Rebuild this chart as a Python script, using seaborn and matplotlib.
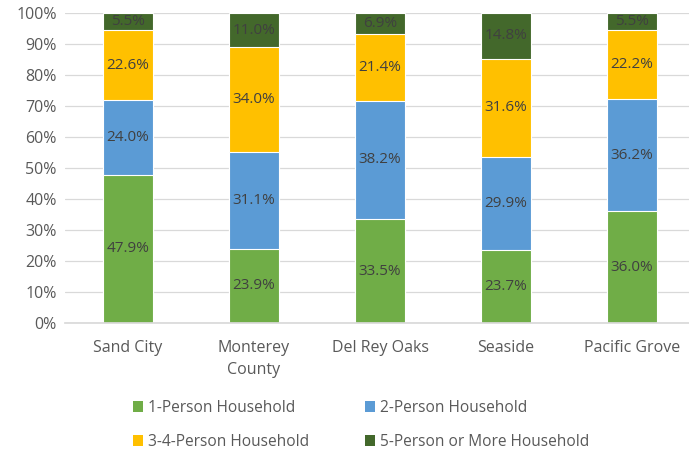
import matplotlib
matplotlib.use("Agg")
import matplotlib.pyplot as plt
import seaborn as sns
import numpy as np
import pandas as pd
from matplotlib.patches import Patch

places = ["Sand City", "Monterey\nCounty", "Del Rey Oaks", "Seaside", "Pacific Grove"]
series = ["1-Person Household", "2-Person Household", "3-4-Person Household", "5-Person or More Household"]
one_person = [47.9, 23.9, 33.5, 23.7, 36.0]
two_person = [24.0, 31.1, 38.2, 29.9, 36.2]
three_four = [22.6, 34.0, 21.4, 31.6, 22.2]
five_plus = [5.5, 11.0, 6.9, 14.8, 5.5]
colors = ["#70AD47", "#5B9BD5", "#FFC000", "#43682B"]

sns.set_theme(style="white")
plt.rcParams['font.family'] = ['Open Sans', 'DejaVu Sans']

vals = [one_person, two_person, three_four, five_plus]
cum = np.cumsum(np.array(vals), axis=0)

fig = plt.figure(figsize=(6.89, 4.53), dpi=100)
ax = fig.add_axes([65/689, 1 - 323/453, 624/689, 310/453])

for i in range(3, -1, -1):
    df = pd.DataFrame({"place": places, "val": cum[i]})
    sns.barplot(data=df, x="place", y="val", color=colors[i], width=0.4,
                ax=ax, edgecolor="white", linewidth=0.8, saturation=1)

for i in range(4):
    for j in range(len(places)):
        mid = cum[i][j] - vals[i][j] / 2
        ax.text(j, mid, f"{vals[i][j]:.1f}%", ha="center", va="center",
                fontsize=11, color="#404040")

ax.set_ylim(0, 100)
ax.set_xlim(-0.5, 4.5 - 6/126)
ax.set_yticks(np.arange(0, 101, 10))
ax.set_yticklabels([f"{t}%" for t in range(0, 101, 10)], fontsize=11.5, color="#595959")
ax.set_xticks(range(len(places)))
ax.set_xticklabels(places, fontsize=11.5, color="#595959", linespacing=1.5)
ax.tick_params(axis="x", length=0, pad=12)
ax.tick_params(axis="y", length=0, pad=6)
ax.set_xlabel("")
ax.set_ylabel("")
ax.yaxis.grid(True, color="#D9D9D9", linewidth=0.9)
ax.set_axisbelow(True)
for s in ["top", "right", "left"]:
    ax.spines[s].set_visible(False)
ax.spines["bottom"].set_color("#D9D9D9")

order = [0, 2, 1, 3]
handles = [Patch(facecolor=colors[k], edgecolor="none") for k in order]
labels = [series[k] for k in order]
fig.legend(handles, labels, loc="upper left", bbox_to_anchor=(133/689, 1 - 400/453),
           ncol=2, frameon=False, fontsize=11.2, labelcolor="#595959",
           handlelength=0.65, handleheight=0.65, handletextpad=0.3, columnspacing=3.6,
           labelspacing=1.15, borderaxespad=0, borderpad=0)

fig.savefig("out.png", dpi=100)
